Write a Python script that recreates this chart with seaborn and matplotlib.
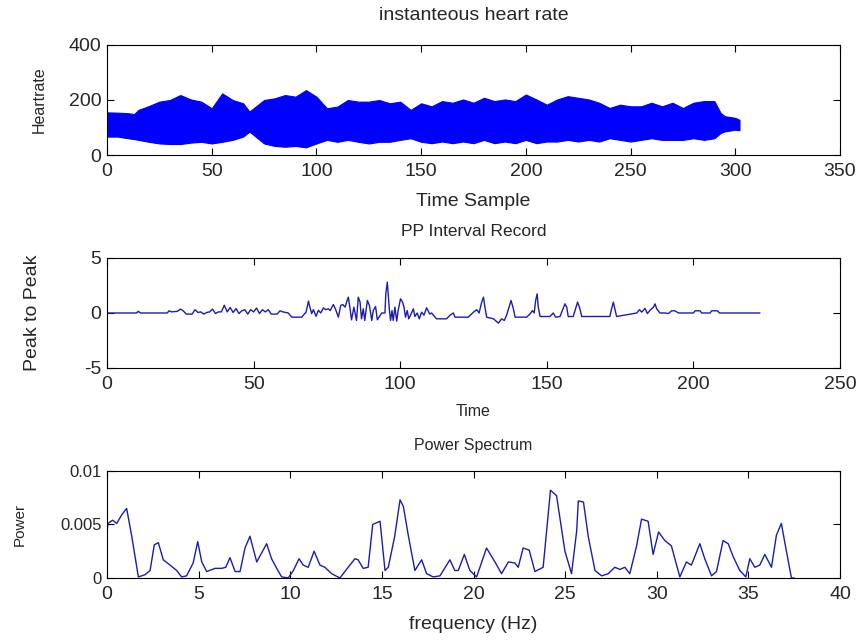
import numpy as np
import pandas as pd
import matplotlib
matplotlib.use("Agg")
import matplotlib.pyplot as plt
import seaborn as sns
from matplotlib.ticker import FuncFormatter

# instantaneous heart rate: envelope of the dense signal
hr_time = [0, 5, 10, 13, 15, 20, 25, 30, 35, 40, 45, 50, 55, 60, 65, 68, 70, 75, 80, 85,
           90, 95, 100, 105, 110, 115, 120, 125, 130, 135, 140, 145, 150, 155, 160, 165,
           170, 175, 180, 185, 190, 195, 200, 205, 210, 215, 220, 225, 230, 235, 240,
           245, 250, 255, 260, 265, 270, 275, 280, 285, 290, 293, 295, 300, 302]
hr_upper = [155, 154, 152, 149, 164, 178, 194, 200, 218, 202, 194, 170, 224, 200, 188, 158,
            170, 200, 206, 218, 212, 236, 212, 170, 176, 200, 194, 194, 200, 188, 194, 164,
            188, 177, 196, 190, 202, 190, 208, 196, 202, 196, 220, 202, 183, 202, 214, 208,
            202, 190, 171, 183, 177, 177, 190, 177, 190, 171, 190, 196, 196, 153, 141, 135, 128]
hr_lower = [67, 67, 61, 58, 55, 48, 42, 40, 40, 45, 48, 42, 48, 55, 67, 85, 73, 42, 33, 30,
            33, 28, 42, 55, 48, 55, 48, 42, 48, 48, 55, 61, 48, 43, 49, 43, 49, 43, 55, 43,
            49, 43, 55, 43, 49, 49, 55, 49, 55, 49, 61, 55, 49, 55, 61, 55, 55, 55, 61, 55,
            61, 80, 86, 92, 90]

# PP interval record
pp_time = [0, 10, 10.7, 11.4, 20.5, 21.2, 22, 24, 25, 26, 27, 29, 30, 31, 32, 33, 34, 35,
           36, 37, 38, 39, 40, 41, 42, 43, 44, 45, 46, 47, 48, 49, 50, 51, 52, 53, 54, 55,
           56, 58, 59, 60, 61.8, 63, 66.4, 67.9, 68.7, 69.2, 69.8, 70.4, 71.3, 72.1, 72.9,
           73.8, 74.6, 75.5, 76.1, 77.2, 78, 78.9, 79.7, 80.4, 81.2, 81.7, 82.3, 82.9, 83.4,
           84.2, 85.1, 85.7, 86.3, 86.8, 87.4, 87.9, 88.8, 89.5, 90.3, 90.8, 91.6, 92.2,
           93.7, 94.8, 95.1, 95.6, 95.9, 96.3, 96.7, 97.2, 97.6, 98.2, 98.8, 99.3, 100.1,
           100.8, 101.3, 101.8, 102.4, 102.9, 103.5, 104.5, 105, 105.8, 106.5, 107.3, 108.1,
           109, 110.1, 110.7, 112.4, 115.8, 117, 118.1, 118.7, 123.2, 125, 126.1, 126.9,
           127.8, 128.4, 128.9, 129.5, 131.8, 133.5, 134.6, 135.5, 136.3, 137.1, 137.8,
           138.6, 139.2, 143.1, 144.3, 145.1, 145.7, 146.2, 146.7, 147.1, 147.7, 151.1,
           152.2, 153, 154.5, 155.3, 156.2, 156.8, 157.3, 159, 159.8, 160.5, 161.3, 161.9,
           171.5, 172.1, 172.7, 173.2, 173.8, 180.7, 181.6, 182.4, 183.5, 184.3, 185.2,
           186.4, 186.9, 187.5, 188.6, 190.4, 191.5, 192.6, 193.7, 194.9, 200, 200.6,
           202.3, 202.8, 205.7, 206.2, 208.2, 208.9, 222.7]
pp_value = [0, 0, 0.15, 0, 0, 0.2, 0.1, 0.15, 0.35, 0.2, -0.1, -0.1, 0.3, 0.05, 0.1, -0.1,
            0.05, 0.1, 0.35, -0.05, 0.1, 0.1, 0.7, 0.1, 0.5, 0.05, 0.4, -0.05, 0.2, 0.3,
            -0.1, 0.3, 0.1, 0.45, -0.05, 0.3, 0.1, 0.3, -0.1, -0.1, 0.2, 0.1, 0, -0.38,
            -0.38, 0.08, 1.08, 0.53, -0.05, 0.3, -0.3, 0.25, 0, 0.47, 0.3, 0.38, 0.22, 0.77,
            0.3, -0.38, 0.68, 0.77, 0.53, 0.99, 1.44, 0.38, -0.62, 0.53, -0.68, 1.44, 0.99,
            -0.53, 0.38, -0.68, 1.14, 0.68, -0.68, 0.22, 0.59, -0.62, 0, 0, 1.8, 2.8, 1.7,
            0.3, -0.68, 0.22, -0.68, 0.53, -0.74, 0.22, 1.29, 0.99, 0.53, -0.38, 0.22,
            -0.53, -0.2, 0.38, -0.32, 0, -0.53, 0.07, -0.2, 0.47, -0.1, 0, -0.53, -0.53,
            -0.2, 0, -0.38, -0.38, 0.08, 0.3, 0, 0.99, 1.44, 0.53, -0.38, -0.53, -0.92,
            -0.53, -0.68, -0.2, 0.53, 1.14, 0.38, -0.38, -0.38, -0.08, 0.22, 0, 1.14, 1.74,
            0.53, -0.32, -0.32, 0, -0.38, -0.32, 0.22, 0.83, 0.53, -0.32, -0.32, 0.38, 0.99,
            0.38, -0.32, -0.32, 0.38, 0.99, 0.38, -0.32, 0, 0.3, 0.08, 0.42, -0.05, 0.25,
            0.53, 0.83, 0.38, 0, 0, -0.05, 0.2, 0.2, 0, 0, 0.2, 0.2, 0, 0, 0.2, 0.2, 0, 0]

# power spectrum
freq = [0, 0.05, 0.3, 0.53, 0.8, 1.07, 1.35, 1.71, 2.07, 2.35, 2.58, 2.8, 3.07, 3.44, 3.8,
        4.07, 4.34, 4.7, 4.95, 5.17, 5.44, 5.9, 6.26, 6.48, 6.71, 6.99, 7.26, 7.53, 7.8,
        8.17, 8.71, 8.98, 9.26, 9.53, 9.89, 10.17, 10.48, 10.71, 10.98, 11.3, 11.62, 11.89,
        12.26, 12.71, 13.16, 13.53, 13.7, 13.98, 14.25, 14.5, 14.9, 15.17, 15.35, 15.7,
        15.99, 16.17, 16.44, 16.8, 17.17, 17.44, 17.8, 18.17, 18.71, 18.98, 19.17, 19.5,
        19.8, 20.17, 20.71, 21.17, 21.53, 21.9, 22.26, 22.44, 22.71, 23.04, 23.35, 23.8,
        23.99, 24.2, 24.53, 24.99, 25.35, 25.63, 25.72, 26.0, 26.26, 26.63, 26.99, 27.35,
        27.71, 27.99, 28.26, 28.53, 28.9, 29.17, 29.53, 29.8, 30.1, 30.44, 30.8, 31.26,
        31.62, 31.89, 32.35, 32.62, 32.99, 33.26, 33.62, 33.9, 34.17, 34.53, 34.86, 35.08,
        35.35, 35.62, 35.9, 36.26, 36.53, 36.8, 36.99, 37.35, 37.5]
power = [0.0043, 0.0051, 0.0054, 0.0051, 0.0059, 0.0065, 0.0039, 0.0001, 0.0003, 0.0007,
         0.0031, 0.0033, 0.0017, 0.0012, 0.0007, 0.0001, 0.0002, 0.0014, 0.0034, 0.0015,
         0.0006, 0.0009, 0.0009, 0.0010, 0.0019, 0.0006, 0.0006, 0.0028, 0.0039, 0.0015,
         0.0032, 0.0018, 0.0009, 0.0001, 0.0000, 0.0007, 0.0018, 0.0012, 0.0010, 0.0025,
         0.0012, 0.0010, 0.0004, 0.0000, 0.0010, 0.0018, 0.0017, 0.0009, 0.0010, 0.0050,
         0.0053, 0.0007, 0.0010, 0.0039, 0.0073, 0.0067, 0.0040, 0.0007, 0.0017, 0.0004,
         0.0001, 0.0002, 0.0017, 0.0007, 0.0007, 0.0022, 0.0007, 0.0001, 0.0028, 0.0015,
         0.0004, 0.0015, 0.0014, 0.0010, 0.0028, 0.0026, 0.0006, 0.0010, 0.0044, 0.0082,
         0.0077, 0.0025, 0.0004, 0.0044, 0.0072, 0.0071, 0.0039, 0.0007, 0.0002, 0.0004,
         0.0010, 0.0008, 0.0010, 0.0004, 0.0030, 0.0055, 0.0053, 0.0022, 0.0043, 0.0035,
         0.0030, 0.0001, 0.0015, 0.0012, 0.0032, 0.0018, 0.0002, 0.0006, 0.0035, 0.0032,
         0.0020, 0.0007, 0.0001, 0.0018, 0.0010, 0.0012, 0.0022, 0.0010, 0.0040, 0.0051,
         0.0033, 0.0000, 0.0]

sns.set_theme(style="ticks")
plt.rcParams['font.family'] = ['Liberation Sans', 'DejaVu Sans']
plt.rcParams['axes.edgecolor'] = 'black'
plt.rcParams['axes.linewidth'] = 0.8
plt.rcParams['axes.unicode_minus'] = False

fig = plt.figure(figsize=(8.61, 6.4), dpi=100)
ax1 = fig.add_axes([0.1243, 0.7578, 0.8513, 0.1719])
ax2 = fig.add_axes([0.1243, 0.4250, 0.8513, 0.1719])
ax3 = fig.add_axes([0.1243, 0.0969, 0.8513, 0.1672])

line_col = '#1c1cb0'

# top: dense heart-rate signal drawn as its envelope band
ax1.fill_between(hr_time, hr_lower, hr_upper, color='#0000ff', lw=0.8, edgecolor='#0000ee')
ax1.set_xlim(0, 350)
ax1.set_ylim(0, 400)
ax1.set_xticks(range(0, 351, 50))
ax1.set_yticks([0, 200, 400])
ax1.set_title('instanteous heart rate', fontsize=14, pad=18)
ax1.set_xlabel('Time Sample', fontsize=14, labelpad=9)
ax1.set_ylabel('Heartrate', fontsize=11.5)
ax1.yaxis.set_label_coords(-0.082, 0.5)

# middle: PP interval
pp_df = pd.DataFrame({'t': pp_time, 'v': pp_value})
sns.lineplot(data=pp_df, x='t', y='v', ax=ax2, color=line_col, lw=1,
             sort=False, estimator=None)
ax2.set_xlim(0, 250)
ax2.set_ylim(-5, 5)
ax2.set_xticks(range(0, 251, 50))
ax2.set_yticks([-5, 0, 5])
ax2.set_title('PP Interval Record', fontsize=12.5, pad=16)
ax2.set_xlabel('Time', fontsize=11.5, labelpad=8)
ax2.set_ylabel('Peak to Peak', fontsize=14)
ax2.yaxis.set_label_coords(-0.0895, 0.5)

# bottom: power spectrum
ps_df = pd.DataFrame({'f': freq, 'p': power})
sns.lineplot(data=ps_df, x='f', y='p', ax=ax3, color=line_col, lw=1,
             sort=False, estimator=None)
ax3.set_xlim(0, 40)
ax3.set_ylim(0, 0.01)
ax3.set_xticks(range(0, 41, 5))
ax3.set_yticks([0, 0.005, 0.01])
ax3.yaxis.set_major_formatter(FuncFormatter(lambda v, p: '%g' % v))
ax3.set_title('Power Spectrum', fontsize=11.5, pad=15)
ax3.set_xlabel('frequency (Hz)', fontsize=14, labelpad=9)
ax3.set_ylabel('Power', fontsize=11)
ax3.yaxis.set_label_coords(-0.109, 0.5)

for ax in (ax1, ax2, ax3):
    ax.tick_params(direction='in', top=True, right=True, length=5, width=0.8,
                   labelsize=14, color='black', pad=4)
    ax.tick_params(axis='x', pad=6)
    for s in ax.spines.values():
        s.set_visible(True)
        s.set_color('black')
ax3.tick_params(axis='y', labelsize=12)

fig.savefig('out.png', dpi=100)
